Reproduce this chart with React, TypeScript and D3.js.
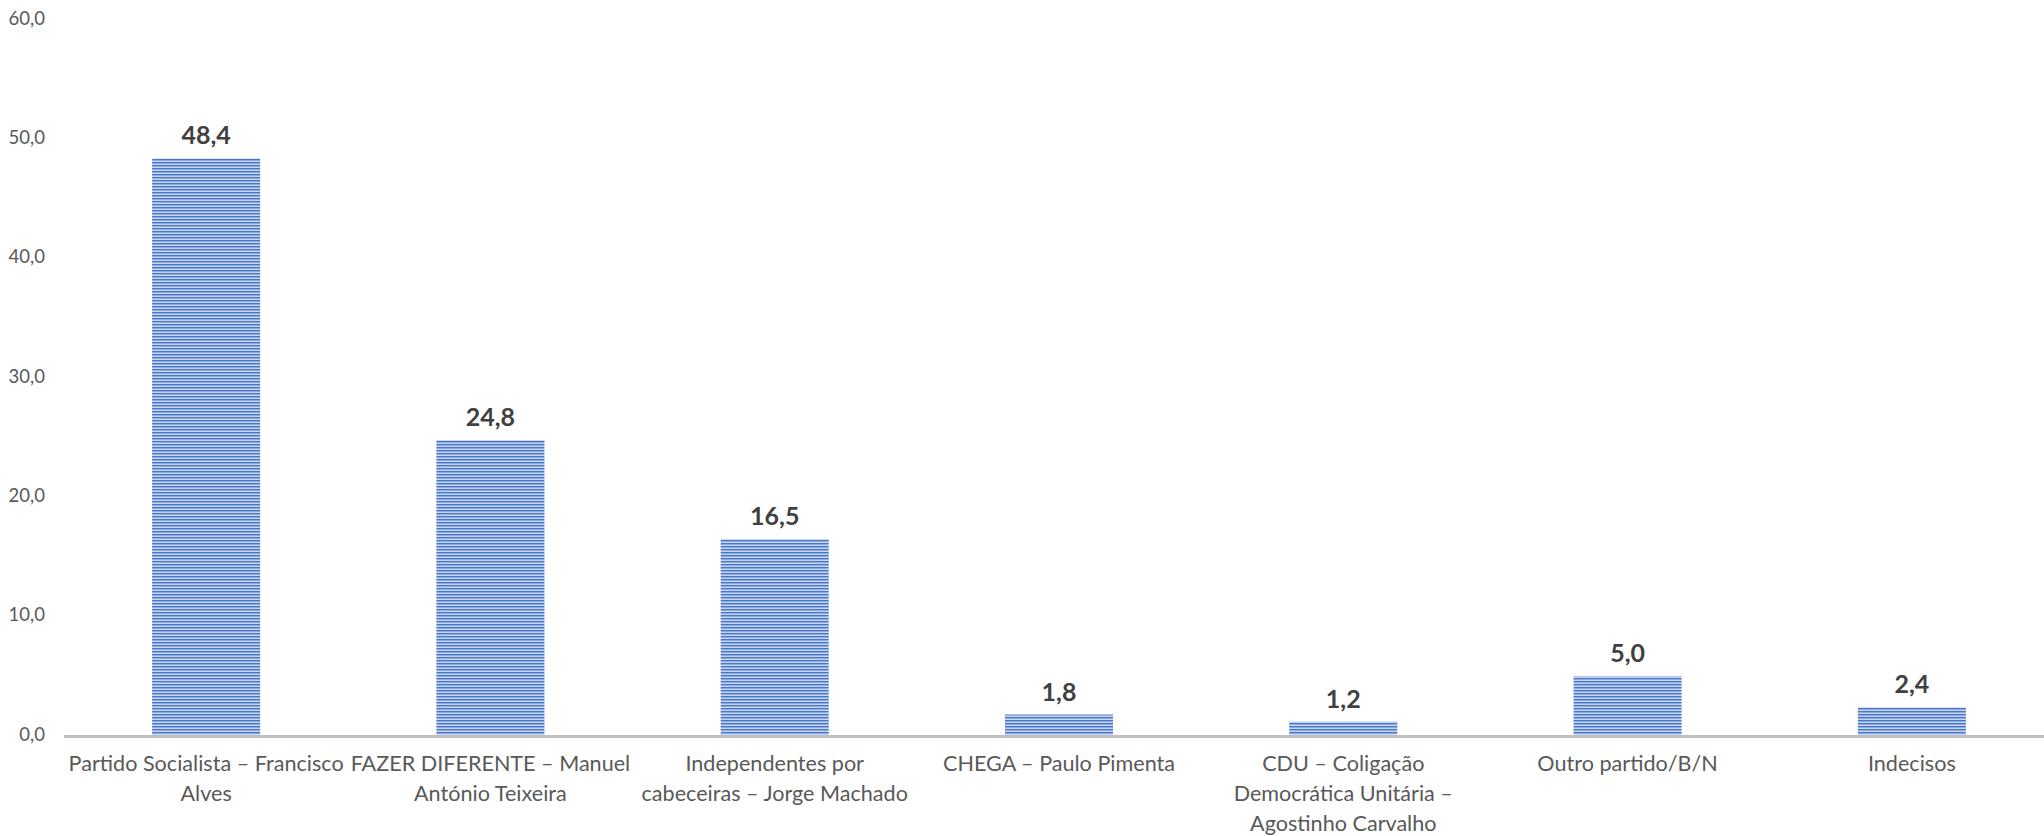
import { useMemo } from "react";
import * as d3 from "d3";

const categories: string[][] = [
    ["Partido Socialista – Francisco", "Alves"],
    ["FAZER DIFERENTE – Manuel", "António Teixeira"],
    ["Independentes por", "cabeceiras – Jorge Machado"],
    ["CHEGA – Paulo Pimenta"],
    ["CDU – Coligação", "Democrática Unitária –", "Agostinho Carvalho"],
    ["Outro partido/B/N"],
    ["Indecisos"],
];
const values = [48.4, 24.8, 16.5, 1.8, 1.2, 5.0, 2.4];
const yTicks = [0, 10, 20, 30, 40, 50, 60];

const W = 2044;
const H = 836;
const FONT = "Lato, 'Open Sans', sans-serif";

const fmt = (v: number) => v.toFixed(1).replace(".", ",");

export default function App() {
    const x = useMemo(
        () =>
            d3
                .scaleBand<number>()
                .domain(d3.range(values.length))
                .range([64, 2054])
                .paddingInner(0.62)
                .paddingOuter(0.31),
        []
    );
    const y = useMemo(() => d3.scaleLinear().domain([0, 60]).range([736, 20]), []);
    const cx = (i: number) => (x(i) ?? 0) + x.bandwidth() / 2;

    return (
        <svg
            width={W}
            height={H}
            style={{ position: "absolute", left: 0, top: 0, background: "#fff" }}
            fontFamily={FONT}
        >
            <defs>
                <pattern id="stripes" patternUnits="userSpaceOnUse" width={8} height={3}>
                    <rect x={0} y={0} width={8} height={1} fill="#4876c8" />
                    <rect x={0} y={1} width={8} height={1} fill="#8eabe0" />
                    <rect x={0} y={2} width={8} height={1} fill="#c6d5f1" />
                </pattern>
            </defs>

            {/* y tick labels */}
            {yTicks.map(t => (
                <text
                    key={t}
                    x={45}
                    y={y(t)}
                    textAnchor="end"
                    dominantBaseline="middle"
                    fontSize={18.5}
                    fill="#595959"
                >
                    {fmt(t)}
                </text>
            ))}

            {/* bars */}
            {values.map((v, i) => (
                <rect
                    key={i}
                    x={x(i)}
                    y={y(v)}
                    width={x.bandwidth()}
                    height={y(0) - y(v)}
                    fill="url(#stripes)"
                />
            ))}

            {/* axis line */}
            <line x1={64} x2={W} y1={y(0) + 0.5} y2={y(0) + 0.5} stroke="#bfbfbf" strokeWidth={3} />

            {/* data labels */}
            {values.map((v, i) => (
                <text
                    key={i}
                    x={cx(i)}
                    y={y(v) - 14}
                    textAnchor="middle"
                    fontSize={25}
                    fontWeight="bold"
                    fill="#404040"
                >
                    {fmt(v)}
                </text>
            ))}

            {/* category labels */}
            {categories.map((lines, i) => (
                <text key={i} x={cx(i)} y={771} textAnchor="middle" fontSize={21.6} fill="#595959">
                    {lines.map((l, j) => (
                        <tspan key={j} x={cx(i)} dy={j === 0 ? 0 : 30}>
                            {l}
                        </tspan>
                    ))}
                </text>
            ))}
        </svg>
    );
}
